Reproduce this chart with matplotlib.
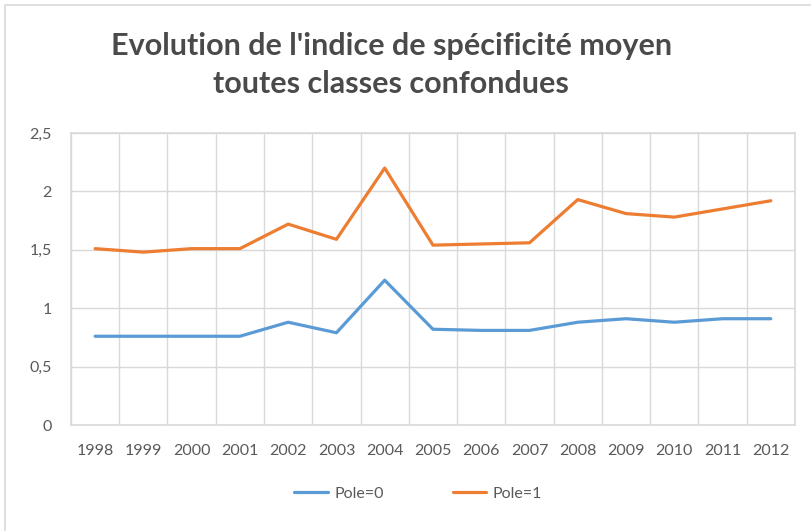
import matplotlib
matplotlib.use("Agg")
import matplotlib.pyplot as plt
from matplotlib.patches import Rectangle
from matplotlib.ticker import FuncFormatter

years = ["1998", "1999", "2000", "2001", "2002", "2003", "2004", "2005",
         "2006", "2007", "2008", "2009", "2010", "2011", "2012"]
pole0 = [0.76, 0.76, 0.76, 0.76, 0.88, 0.79, 1.24, 0.82, 0.81, 0.81,
         0.88, 0.91, 0.88, 0.91, 0.91]
pole1 = [1.51, 1.48, 1.51, 1.51, 1.72, 1.59, 2.20, 1.54, 1.55, 1.56,
         1.93, 1.81, 1.78, 1.85, 1.92]
yticks = [0, 0.5, 1, 1.5, 2, 2.5]

plt.rcParams['font.family'] = ['Lato', 'DejaVu Sans']
txt = '#595959'
grid = '#D9D9D9'

fig = plt.figure(figsize=(8.12, 5.31), dpi=100)
ax = fig.add_axes([0.0874, 0.1996, 0.8916, 0.5499])

x = list(range(len(years)))
ax.plot(x, pole0, color='#5B9BD5', lw=2.3, label='Pole=0', solid_capstyle='round')
ax.plot(x, pole1, color='#ED7D31', lw=2.3, label='Pole=1', solid_capstyle='round')

ax.set_xlim(-0.5, len(years) - 0.5)
ax.set_ylim(0, 2.5)
ax.set_yticks(yticks)
ax.yaxis.set_major_formatter(FuncFormatter(lambda v, p: ('%g' % v).replace('.', ',')))
ax.set_xticks(x)
ax.set_xticklabels(years)
ax.set_xticks([i - 0.5 for i in range(len(years) + 1)], minor=True)
ax.grid(False)
ax.grid(True, which='minor', axis='x', color=grid, lw=1)
ax.grid(True, which='major', axis='y', color=grid, lw=1)
ax.tick_params(axis='both', which='both', length=0, colors=txt, labelsize=11.5)
ax.tick_params(axis='y', pad=14)
ax.tick_params(axis='x', pad=14)
for s in ax.spines.values():
    s.set_color(grid)
    s.set_linewidth(1.2)

fig.text(0.482, 0.913, "Evolution de l'indice de spécificité moyen",
         ha='center', va='center', fontsize=22, fontweight='bold', color='#4A4A4A')
fig.text(0.482, 0.842, "toutes classes confondues",
         ha='center', va='center', fontsize=22, fontweight='bold', color='#4A4A4A')

leg = fig.legend(loc='center', bbox_to_anchor=(0.515, 0.07), ncol=2, frameon=False,
                 fontsize=11.5, handlelength=2.1, columnspacing=4.3, handletextpad=0.4)
for t in leg.get_texts():
    t.set_color(txt)

fig.patches.append(Rectangle((0.006, -0.01), 1.1, 1.0, transform=fig.transFigure,
                             fill=False, edgecolor='#D9D9D9', lw=1.2))

fig.savefig('out.png', dpi=100)
